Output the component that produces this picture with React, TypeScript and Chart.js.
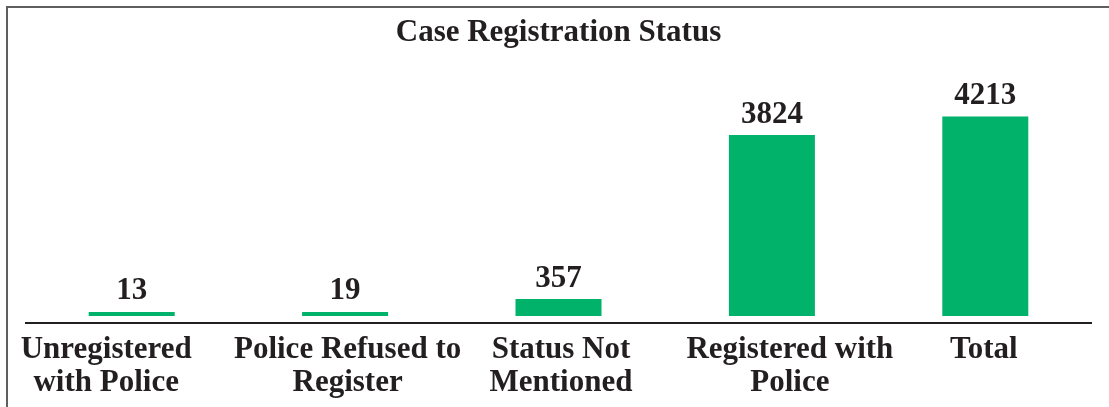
import React, { useEffect, useRef } from "react";
import { Chart, registerables } from "chart.js";

Chart.register(...registerables);

const categories: string[][] = [
  ["Unregistered", "with Police"],
  ["Police Refused to", "Register"],
  ["Status Not", "Mentioned"],
  ["Registered with", "Police"],
  ["Total"],
];
const caseCounts: number[] = [13, 19, 357, 3824, 4213];
const chartTitle = "Case Registration Status";

const FONT = "'Liberation Serif', 'Times New Roman', serif";
const TEXT = "#231f20";
const BAR = "#00b26a";
// small horizontal nudges of the category labels, as in the reference
const LABEL_NUDGE = [-25.5, 2.5, 2.5, 18, -1.5];

const decorPlugin = {
  id: "decor",
  afterDatasetsDraw(chart: any) {
    const { ctx, chartArea } = chart;
    const xScale = chart.scales.x;
    ctx.save();
    // axis line
    ctx.strokeStyle = TEXT;
    ctx.lineWidth = 2;
    ctx.beginPath();
    ctx.moveTo(chartArea.left, chartArea.bottom);
    ctx.lineTo(chartArea.right, chartArea.bottom);
    ctx.stroke();

    ctx.fillStyle = TEXT;
    ctx.font = `bold 31px ${FONT}`;
    ctx.textAlign = "center";
    ctx.textBaseline = "alphabetic";
    // value labels
    const meta = chart.getDatasetMeta(0);
    meta.data.forEach((bar: any, i: number) => {
      ctx.fillText(String(caseCounts[i]), bar.x, bar.y - 12.5);
    });
    // category labels
    categories.forEach((lines, i) => {
      const x = xScale.getPixelForValue(i) + (LABEL_NUDGE[i] || 0);
      lines.forEach((line, j) => {
        ctx.fillText(line, x, chartArea.bottom + 35 + j * 32.5);
      });
    });
    ctx.restore();
  },
};

export default function App() {
  const ref = useRef<HTMLCanvasElement | null>(null);
  useEffect(() => {
    if (!ref.current) return;
    const chart = new Chart(ref.current, {
      type: "bar",
      data: {
        labels: categories,
        datasets: [
          {
            data: caseCounts,
            backgroundColor: BAR,
            borderWidth: 0,
            categoryPercentage: 1,
            barPercentage: 0.403,
            minBarLength: 4,
          },
        ],
      },
      options: {
        responsive: false,
        animation: false,
        devicePixelRatio: 1,
        layout: { padding: { left: 25, right: 17, top: 0, bottom: 84 } },
        plugins: {
          legend: { display: false },
          tooltip: { enabled: false },
          title: {
            display: true,
            text: chartTitle,
            color: TEXT,
            font: { family: FONT, size: 31, weight: "bold", lineHeight: 1.2 },
            padding: { top: 14, bottom: 29 },
          },
        },
        scales: {
          x: {
            grid: { display: false, drawTicks: false },
            border: { display: false },
            ticks: { display: false },
          },
          y: {
            display: false,
            min: -148,
            max: 4982,
          },
        },
      },
      plugins: [decorPlugin],
    });
    return () => chart.destroy();
  }, []);

  return (
    <div style={{ position: "fixed", left: 0, top: 0, width: 1109, height: 407, background: "#fff" }}>
      <div
        style={{
          position: "absolute",
          left: 6,
          top: 6,
          width: 1103,
          height: 401,
          boxSizing: "border-box",
          borderTop: "2px solid #5f5f5f",
          borderLeft: "2px solid #5f5f5f",
        }}
      />
      <canvas ref={ref} width={1109} height={407} style={{ position: "absolute", left: 0, top: 0 }} />
    </div>
  );
}
